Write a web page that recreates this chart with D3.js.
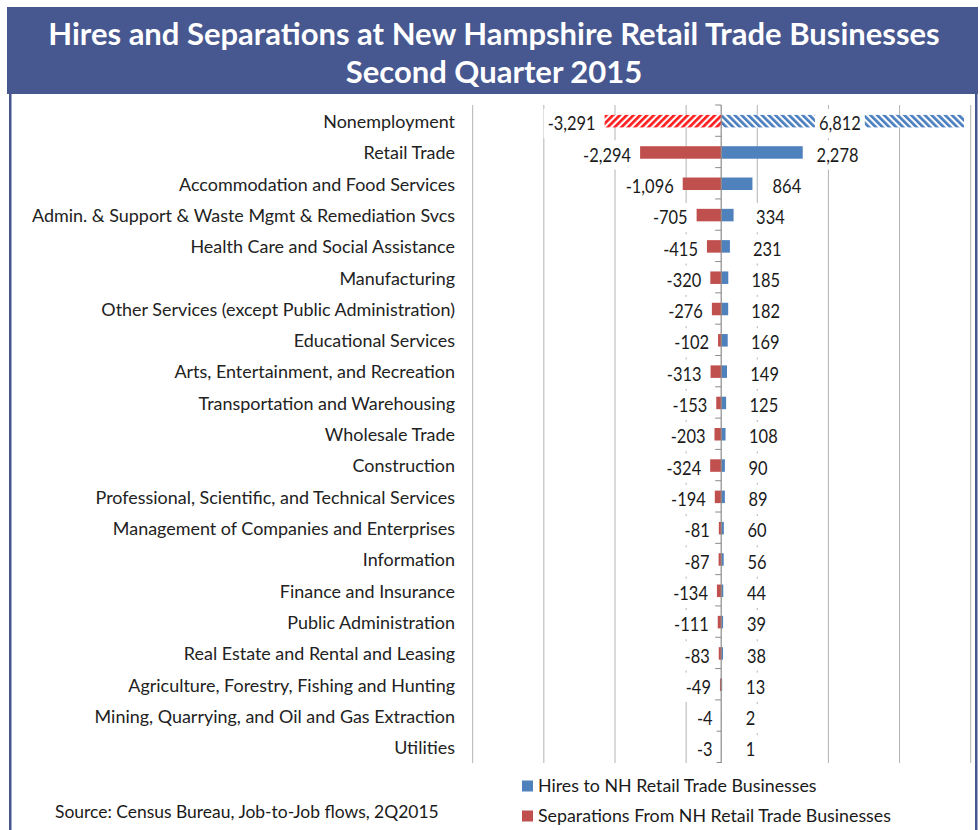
<!DOCTYPE html>
<html>
<head>
<meta charset="utf-8">
<script src="https://cdn.jsdelivr.net/npm/d3@7"></script>
<style>
  html, body { margin: 0; padding: 0; background: #fff; }
  svg { display: block; }
</style>
</head>
<body>
<svg id="chart" width="980" height="830"></svg>
<script>
const titleLines = ["Hires and Separations at New Hampshire Retail Trade Businesses", "Second Quarter 2015"];
const categories = [
  "Nonemployment",
  "Retail Trade",
  "Accommodation and Food Services",
  "Admin. & Support & Waste Mgmt & Remediation Svcs",
  "Health Care and Social Assistance",
  "Manufacturing",
  "Other Services (except Public Administration)",
  "Educational Services",
  "Arts, Entertainment, and Recreation",
  "Transportation and Warehousing",
  "Wholesale Trade",
  "Construction",
  "Professional, Scientific, and Technical Services",
  "Management of Companies and Enterprises",
  "Information",
  "Finance and Insurance",
  "Public Administration",
  "Real Estate and Rental and Leasing",
  "Agriculture, Forestry, Fishing and Hunting",
  "Mining, Quarrying, and Oil and Gas Extraction",
  "Utilities"
];
const hires = [6812, 2278, 864, 334, 231, 185, 182, 169, 149, 125, 108, 90, 89, 60, 56, 44, 39, 38, 13, 2, 1];
const separations = [-3291, -2294, -1096, -705, -415, -320, -276, -102, -313, -153, -203, -324, -194, -81, -87, -134, -111, -83, -49, -4, -3];
const hatchedCategories = ["Nonemployment"];
const gridTicks = [-7000, -5000, -3000, -1000, 1000, 3000, 5000, 7000];
const xDomain = [-7000, 7000];
const legendLabels = ["Hires to NH Retail Trade Businesses", "Separations From NH Retail Trade Businesses"];
const sourceText = "Source: Census Bureau, Job-to-Job flows, 2Q2015";

const FONT = "Lato, 'Open Sans', sans-serif";
const BLUE = "#4f81bd", RED = "#c0504d", HATCH_RED = "#ff1e1e", HATCH_BLUE = "#4a7ebf";
const FRAME = "#46568f";

const svg = d3.select("#chart");

function measure(text, weight, size) {
  const t = svg.append("text").attr("font-family", FONT).attr("font-weight", weight)
    .attr("font-size", size).text(text);
  const w = t.node().getComputedTextLength();
  t.remove();
  return w;
}
function fitSize(text, weight, target, base = 20) {
  return base * target / measure(text, weight, base);
}

// defs: hatch patterns
const defs = svg.append("defs");
function hatch(id, color, angle) {
  const p = defs.append("pattern").attr("id", id).attr("patternUnits", "userSpaceOnUse")
    .attr("width", 4.8).attr("height", 4.8).attr("patternTransform", `rotate(${angle})`);
  p.append("rect").attr("width", 4.8).attr("height", 4.8).attr("fill", "#fff");
  p.append("rect").attr("width", 2.7).attr("height", 4.8).attr("fill", color);
}
hatch("hatchRed", HATCH_RED, 45);
hatch("hatchBlue", HATCH_BLUE, -45);

// frame + title banner
svg.append("rect").attr("x", 9).attr("y", 90).attr("width", 2.5).attr("height", 740).attr("fill", FRAME);
svg.append("rect").attr("x", 975).attr("y", 90).attr("width", 2.5).attr("height", 740).attr("fill", FRAME);
svg.append("rect").attr("x", 7).attr("y", 7).attr("width", 971).attr("height", 87).attr("fill", "#475790");

const titleSize = fitSize(titleLines[0], "bold", 892, 30);
svg.selectAll("text.title").data(titleLines).join("text")
  .attr("class", "title")
  .attr("x", 494).attr("y", (d, i) => 45 + i * 37.5)
  .attr("text-anchor", "middle")
  .attr("font-family", FONT).attr("font-weight", "bold")
  .attr("font-size", titleSize).attr("fill", "#fff")
  .text(d => d);

// scales
const x = d3.scaleLinear().domain(xDomain).range([472.7, 970.7]);
const y = d3.scaleBand().domain(categories).range([105, 762.5]);
const bw = y.bandwidth();
const barH = 12.5;
const cy = d => y(d) + bw / 2 + 0.5;

// gridlines
svg.append("g").selectAll("line").data(gridTicks).join("line")
  .attr("x1", d => x(d)).attr("x2", d => x(d))
  .attr("y1", 105).attr("y2", 763)
  .attr("stroke", "#b3b3b3").attr("stroke-width", 1);

const rows = categories.map((c, i) => ({ c, h: hires[i], s: separations[i], hatched: hatchedCategories.includes(c) }));

// bars
svg.append("g").selectAll("rect").data(rows).join("rect")
  .attr("x", x(0)).attr("y", d => cy(d.c) - barH / 2)
  .attr("width", d => x(d.h) - x(0)).attr("height", barH)
  .attr("fill", d => d.hatched ? "url(#hatchBlue)" : BLUE);
svg.append("g").selectAll("rect").data(rows).join("rect")
  .attr("x", d => x(d.s)).attr("y", d => cy(d.c) - barH / 2)
  .attr("width", d => x(0) - x(d.s)).attr("height", barH)
  .attr("fill", d => d.hatched ? "url(#hatchRed)" : RED);

// category axis
const axisX = x(0) - 0.5;
svg.append("line").attr("x1", axisX).attr("x2", axisX).attr("y1", 105).attr("y2", 763)
  .attr("stroke", "#8c8c8c").attr("stroke-width", 1.2);
const bounds = categories.map(c => y(c)).concat([y.range()[1]]);
svg.append("g").selectAll("line").data(bounds).join("line")
  .attr("x1", axisX - 6).attr("x2", axisX).attr("y1", d => d).attr("y2", d => d)
  .attr("stroke", "#8c8c8c").attr("stroke-width", 1);

// category labels (slightly condensed, like the original)
const catSize = 18;
const catSqueeze = 423 / measure(categories[3], "normal", catSize);
svg.append("g").selectAll("text").data(categories).join("text")
  .attr("x", 455).attr("y", d => cy(d) + 0.5).attr("dy", "0.35em")
  .attr("text-anchor", "end")
  .attr("font-family", FONT).attr("font-size", catSize).attr("fill", "#222")
  .attr("textLength", d => measure(d, "normal", catSize) * catSqueeze)
  .attr("lengthAdjust", "spacingAndGlyphs")
  .text(d => d);

// value labels with white boxes (hyphen-minus, slightly condensed like the original)
const fmt = d3.formatLocale({ decimal: ".", thousands: ",", grouping: [3], currency: ["", ""], minus: "-" }).format(",");
const valSize = 19;
const squeeze = 48 / measure(fmt(separations[1]), "normal", valSize);
const labG = svg.append("g");
function valueLabel(val, cat, anchorX, anchor) {
  const g = labG.append("g");
  const s = fmt(val);
  const w = measure(s, "normal", valSize) * squeeze;
  g.append("text")
    .attr("x", anchorX).attr("y", cy(cat) + 2.5).attr("dy", "0.35em")
    .attr("text-anchor", anchor)
    .attr("font-family", FONT).attr("font-size", valSize).attr("fill", "#1a1a1a")
    .attr("textLength", w).attr("lengthAdjust", "spacingAndGlyphs")
    .text(s);
  const left = anchor === "end" ? anchorX - w : anchor === "middle" ? anchorX - w / 2 : anchorX;
  g.insert("rect", "text")
    .attr("x", left - 4).attr("y", cy(cat) + 2.5 - (bw - 2) / 2)
    .attr("width", w + 8).attr("height", bw - 2).attr("fill", "#fff");
}
rows.forEach(d => {
  valueLabel(d.s, d.c, x(d.s) - 9, "end");
  if (d.hatched) valueLabel(d.h, d.c, (x(0) + x(d.h)) / 2 - 3, "middle");
  else valueLabel(d.h, d.c, x(d.h) + Math.max(12, 24 - (x(d.h) - x(0)) / 8), "start");
});

// legend
const legSize = fitSize(legendLabels[1], "normal", 353, 17);
const leg = svg.append("g").selectAll("g").data(legendLabels).join("g")
  .attr("transform", (d, i) => `translate(522, ${786 + i * 30})`);
leg.append("rect").attr("x", 0).attr("y", -5.5).attr("width", 11).attr("height", 11)
  .attr("fill", (d, i) => i === 0 ? BLUE : RED);
leg.append("text").attr("x", 16).attr("y", 0).attr("dy", "0.35em")
  .attr("font-family", FONT).attr("font-size", legSize).attr("fill", "#1a1a1a")
  .text(d => d);

// source
const srcSize = fitSize(sourceText, "normal", 384, 17);
svg.append("text").attr("x", 55).attr("y", 812).attr("dy", "0.35em")
  .attr("font-family", FONT).attr("font-size", srcSize).attr("fill", "#1a1a1a")
  .text(sourceText);
</script>
</body>
</html>
